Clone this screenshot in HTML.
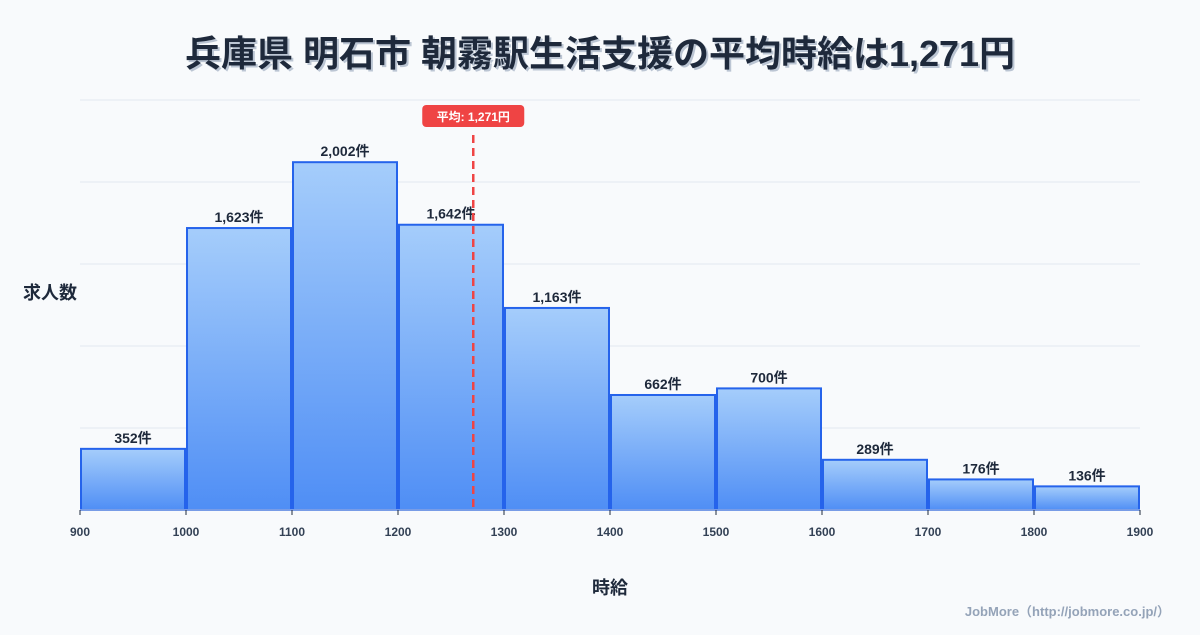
<!DOCTYPE html>
<html><head><meta charset="utf-8"><style>
body{margin:0;width:1200px;height:630px;background:#f8fafc;font-family:"Liberation Sans","Noto Sans CJK JP",sans-serif;overflow:hidden}
svg text{font-family:"Liberation Sans","Noto Sans CJK JP",sans-serif}
</style></head><body>
<svg id="c" width="1200" height="630">
<defs><linearGradient id="g" x1="0" y1="0" x2="0" y2="1"><stop offset="0" stop-color="#a5cdfb"/><stop offset="1" stop-color="#4f8ef5"/></linearGradient></defs>
<text x="602" y="68" text-anchor="middle" font-size="36" font-weight="bold" fill="#94a3b8" opacity="0.6">兵庫県 明石市 朝霧駅生活支援の平均時給は1,271円</text>
<text x="600" y="66" text-anchor="middle" font-size="36" font-weight="bold" fill="#1e293b">兵庫県 明石市 朝霧駅生活支援の平均時給は1,271円</text>
<text x="50" y="299" text-anchor="middle" font-size="18" font-weight="bold" fill="#1e293b">求人数</text>
<text x="610" y="594" text-anchor="middle" font-size="18" font-weight="bold" fill="#1e293b">時給</text>
<text x="1170" y="616" text-anchor="end" font-size="13" font-weight="bold" fill="#94a3b8">JobMore（http://jobmore.co.jp/）</text>
<g id="grid"></g><g id="bars"></g><g id="ticks"></g><g id="mean"></g>
</svg>
<script>
const binStarts=[900,1000,1100,1200,1300,1400,1500,1600,1700,1800];
const counts=[352,1623,2002,1642,1163,662,700,289,176,136];
const tickLabels=[900,1000,1100,1200,1300,1400,1500,1600,1700,1800,1900];
const meanValue=1271;
const NS="http://www.w3.org/2000/svg";
const X0=80,X1=1140,Y0=510,Y1=100,xmin=900,xmax=1900,ymax=2360;
const x=v=>X0+(v-xmin)/(xmax-xmin)*(X1-X0);
const y=v=>Y0-v/ymax*(Y0-Y1);
function mk(t,a,p){const e=document.createElementNS(NS,t);for(const k in a)e.setAttribute(k,a[k]);p.appendChild(e);return e;}
const grid=document.getElementById('grid');
for(let i=0;i<=5;i++){const gy=Y0-i*(Y0-Y1)/5;const l=mk('line',{x1:X0,x2:X1,y1:gy,y2:gy,stroke:'#e2e8f0','stroke-width':1},grid);

}
const bars=document.getElementById('bars');
binStarts.forEach((b,i)=>{
const r=mk('rect',{x:x(b)+1,y:y(counts[i]),width:x(b+100)-x(b)-2,height:Y0-y(counts[i]),fill:'url(#g)',stroke:'#2563eb','stroke-width':2},bars);


const t=mk('text',{x:(x(b)+x(b+100))/2,y:y(counts[i])-6,'text-anchor':'middle','font-size':14,'font-weight':'bold',fill:'#1e293b'},bars);
t.textContent=counts[i].toLocaleString('en-US')+'件';


});
const ticks=document.getElementById('ticks');
mk('line',{x1:X0,x2:X1,y1:Y0,y2:Y0,stroke:'#cbd5e1','stroke-width':1},ticks);
tickLabels.forEach(v=>{
mk('line',{x1:x(v),x2:x(v),y1:Y0,y2:Y0+5,stroke:'#1e293b'},ticks);
const t=mk('text',{x:x(v),y:Y0+26,'text-anchor':'middle','font-size':12,'font-weight':'bold',fill:'#334155'},ticks);
t.textContent=v;


});
const mg=document.getElementById('mean');
const ml=mk('line',{x1:x(meanValue),x2:x(meanValue),y1:135,y2:Y0,stroke:'#ef4444','stroke-width':2.5,'stroke-dasharray':'8,5'},mg);


const mb=mk('rect',{x:x(meanValue)-51,y:105,width:102,height:22,rx:4,fill:'#ef4444'},mg);


const mt=mk('text',{x:x(meanValue),y:121,'text-anchor':'middle','font-size':12,'font-weight':'bold',fill:'#fff'},mg);
mt.textContent='平均: '+meanValue.toLocaleString('en-US')+'円';


</script>
</body></html>
